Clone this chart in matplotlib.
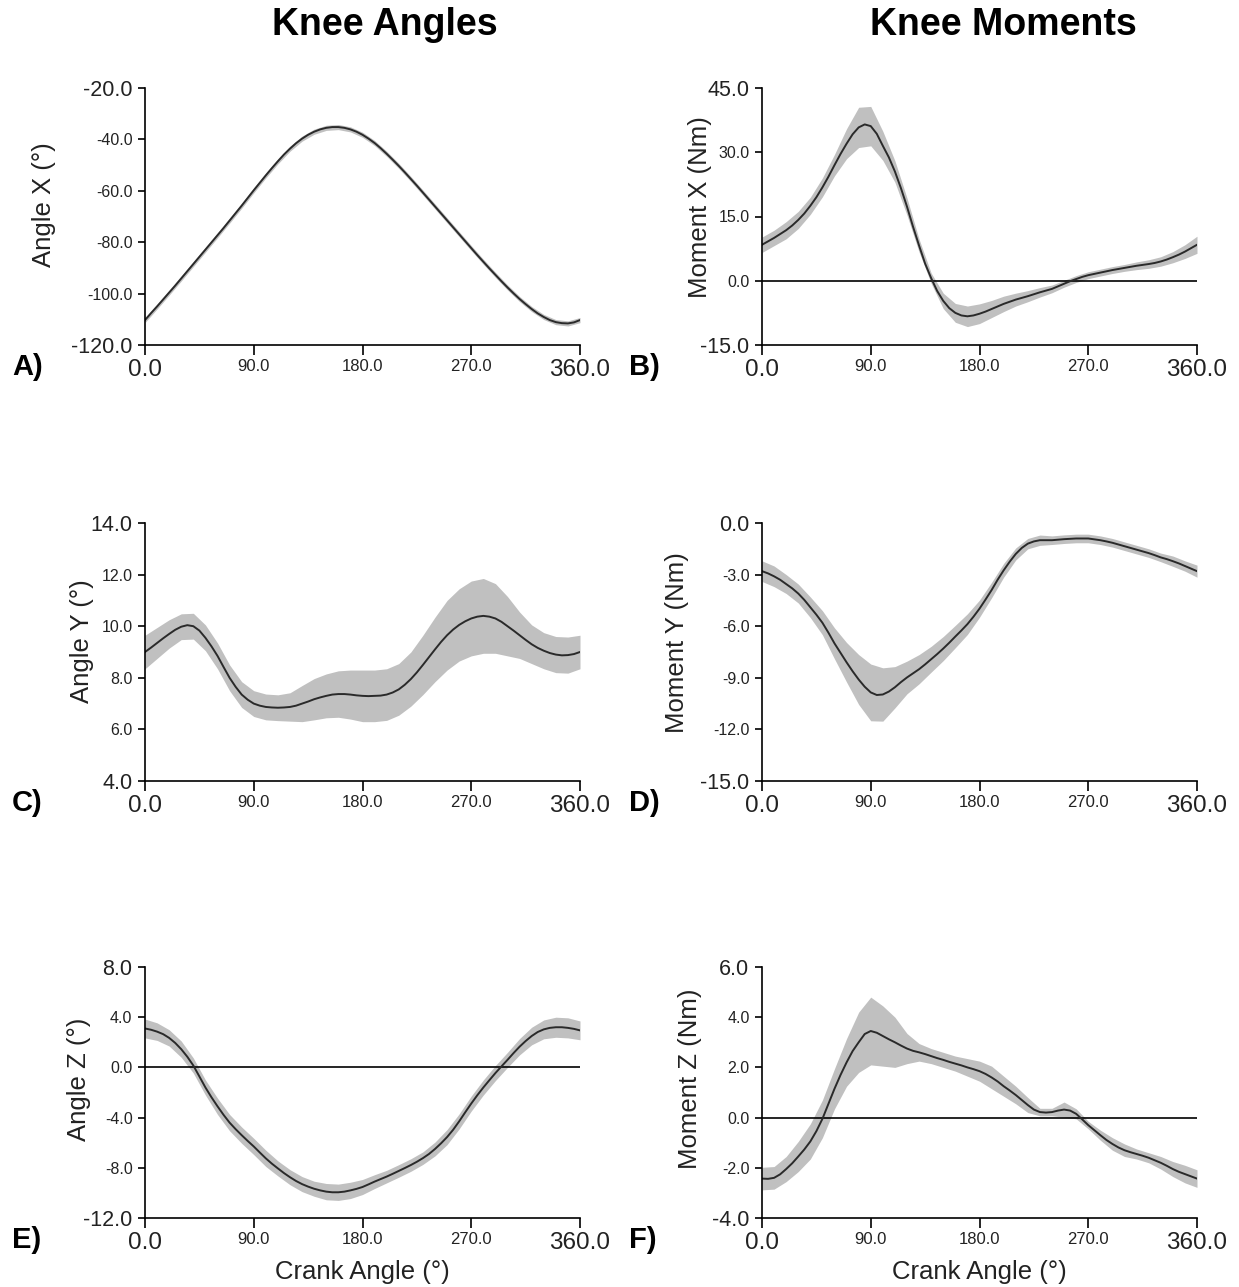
import numpy as np
import matplotlib.pyplot as plt

plt.rcParams['font.family'] = ['Liberation Sans', 'DejaVu Sans']

# crank angle grids (deg): means every 5 deg, SD band every 10 deg
crank = np.arange(0, 361, 5)
crank_sd = np.arange(0, 361, 10)

# A) knee angle X
angle_x = [-110.3, -107.6, -105, -102.3, -99.6, -96.9, -94.1, -91.3, -88.5, -85.7,
           -82.9, -80.1, -77.3, -74.5, -71.6, -68.7, -65.8, -62.8, -59.8, -56.9,
           -54.0, -51.2, -48.5, -45.9, -43.6, -41.5, -39.7, -38.2, -37.0, -36.1,
           -35.5, -35.2, -35.2, -35.5, -36.1, -37.0, -38.2, -39.7, -41.4, -43.4,
           -45.6, -47.9, -50.3, -52.8, -55.4, -58.0, -60.7, -63.4, -66.1, -68.8,
           -71.5, -74.2, -76.9, -79.6, -82.3, -85.0, -87.6, -90.2, -92.7, -95.2,
           -97.6, -99.9, -102.1, -104.1, -106.0, -107.7, -109.1, -110.3, -111.1, -111.5,
           -111.6, -111.2, -110.3]
angle_x_sd = [1.0] * 37

# B) knee moment X
moment_x = [8.4, 9.2, 10.0, 10.9, 11.8, 12.9, 14.2, 15.7, 17.5, 19.5,
            21.8, 24.3, 27.0, 29.6, 32.0, 34.2, 35.8, 36.5, 36.1, 34.3,
            31.5, 28.8, 25.5, 21.6, 17.3, 12.6, 8.2, 4.0, 0.6, -2.4,
            -4.7, -6.4, -7.5, -8.1, -8.3, -8.1, -7.7, -7.2, -6.6, -6.0,
            -5.4, -4.9, -4.4, -4.0, -3.6, -3.15, -2.7, -2.3, -1.9, -1.3,
            -0.7, -0.1, 0.4, 0.9, 1.3, 1.6, 1.9, 2.2, 2.5, 2.75,
            3.0, 3.25, 3.5, 3.7, 3.9, 4.15, 4.5, 4.95, 5.5, 6.1,
            6.8, 7.6, 8.4]
moment_x_sd = [1.8, 1.8, 2, 2, 2, 2.2, 2.5, 3.5, 4.7, 4.6,
               3.4, 2.5, 2, 1.5, 1.2, 1.8, 2.2, 2.4, 2.3, 2.0,
               1.8, 1.5, 1.3, 1.1, 0.9, 0.8, 0.8, 0.8, 0.8, 0.8,
               0.8, 0.9, 1, 1.1, 1.3, 1.6, 2.0]

# C) knee angle Y
angle_y = [9.0, 9.17, 9.35, 9.53, 9.7, 9.86, 9.98, 10.04, 10.0, 9.83,
           9.55, 9.22, 8.85, 8.42, 8.0, 7.65, 7.35, 7.15, 7.0, 6.92,
           6.87, 6.85, 6.84, 6.85, 6.87, 6.92, 7.0, 7.08, 7.17, 7.24,
           7.3, 7.35, 7.37, 7.37, 7.35, 7.32, 7.3, 7.29, 7.3, 7.31,
           7.35, 7.43, 7.55, 7.73, 7.95, 8.21, 8.5, 8.8, 9.1, 9.39,
           9.65, 9.87, 10.05, 10.19, 10.3, 10.37, 10.4, 10.37, 10.3, 10.17,
           10.0, 9.83, 9.65, 9.47, 9.3, 9.16, 9.05, 8.96, 8.9, 8.87,
           8.88, 8.92, 9.0]
angle_y_sd = [0.65, 0.6, 0.55, 0.5, 0.5, 0.5, 0.5, 0.5, 0.5, 0.5,
              0.5, 0.5, 0.55, 0.7, 0.8, 0.85, 0.9, 0.95, 1.0, 1.0,
              1.0, 1.0, 1.05, 1.15, 1.25, 1.35, 1.4, 1.45, 1.45, 1.35,
              1.15, 0.9, 0.75, 0.7, 0.7, 0.7, 0.65]

# D) knee moment Y
moment_y = [-2.8, -2.93, -3.1, -3.3, -3.55, -3.8, -4.1, -4.47, -4.9, -5.33,
            -5.8, -6.38, -7.0, -7.55, -8.1, -8.62, -9.1, -9.52, -9.85, -10.0,
            -9.97, -9.8, -9.55, -9.25, -8.98, -8.74, -8.5, -8.22, -7.92, -7.62,
            -7.3, -6.96, -6.6, -6.25, -5.88, -5.45, -4.98, -4.45, -3.9, -3.3,
            -2.75, -2.25, -1.8, -1.45, -1.2, -1.07, -1.0, -1.0, -1.0, -0.97,
            -0.94, -0.92, -0.9, -0.9, -0.9, -0.95, -1.0, -1.07, -1.15, -1.25,
            -1.35, -1.45, -1.55, -1.65, -1.75, -1.87, -2.0, -2.1, -2.22, -2.35,
            -2.5, -2.65, -2.8]
moment_y_sd = [0.6, 0.6, 0.55, 0.55, 0.6, 0.7, 0.9, 1.15, 1.45, 1.65,
               1.55, 1.2, 0.95, 0.85, 0.75, 0.7, 0.65, 0.6, 0.5, 0.45,
               0.4, 0.35, 0.3, 0.3, 0.25, 0.25, 0.25, 0.25, 0.25, 0.25,
               0.25, 0.25, 0.25, 0.25, 0.3, 0.3, 0.35]

# E) knee angle Z
angle_z = [3.1, 3.0, 2.85, 2.65, 2.35, 1.95, 1.45, 0.85, 0.15, -0.72,
           -1.6, -2.38, -3.1, -3.78, -4.4, -4.92, -5.4, -5.86, -6.3, -6.78,
           -7.25, -7.67, -8.05, -8.42, -8.75, -9.05, -9.3, -9.5, -9.67, -9.8,
           -9.9, -9.95, -9.95, -9.9, -9.8, -9.68, -9.53, -9.32, -9.1, -8.9,
           -8.7, -8.48, -8.25, -8.02, -7.78, -7.52, -7.23, -6.9, -6.5, -6.05,
           -5.55, -4.97, -4.3, -3.58, -2.88, -2.22, -1.6, -1.02, -0.45, 0.08,
           0.6, 1.14, 1.65, 2.1, 2.5, 2.82, 3.03, 3.15, 3.2, 3.2,
           3.15, 3.07, 2.95]
angle_z_sd = [0.75, 0.7, 0.65, 0.65, 0.6, 0.6, 0.65, 0.65, 0.65, 0.65,
              0.65, 0.6, 0.6, 0.6, 0.6, 0.65, 0.65, 0.65, 0.6, 0.55,
              0.5, 0.5, 0.5, 0.5, 0.55, 0.6, 0.6, 0.6, 0.6, 0.6,
              0.6, 0.65, 0.7, 0.75, 0.8, 0.8, 0.75]

# F) knee moment Z
moment_z = [-2.43, -2.44, -2.4, -2.26, -2.05, -1.82, -1.55, -1.27, -0.95, -0.54,
            -0.05, 0.55, 1.15, 1.7, 2.2, 2.65, 3.0, 3.33, 3.45, 3.38,
            3.25, 3.12, 3.0, 2.87, 2.75, 2.66, 2.6, 2.53, 2.45, 2.37,
            2.3, 2.22, 2.15, 2.08, 2.0, 1.93, 1.85, 1.74, 1.6, 1.44,
            1.25, 1.08, 0.9, 0.7, 0.5, 0.32, 0.22, 0.2, 0.22, 0.28,
            0.32, 0.28, 0.15, -0.07, -0.3, -0.5, -0.7, -0.89, -1.05, -1.19,
            -1.3, -1.38, -1.45, -1.52, -1.6, -1.7, -1.8, -1.92, -2.05, -2.16,
            -2.25, -2.34, -2.43]
moment_z_sd = [0.45, 0.45, 0.5, 0.6, 0.7, 0.75, 0.8, 0.95, 1.2, 1.35,
               1.2, 1.0, 0.6, 0.35, 0.3, 0.3, 0.3, 0.35, 0.4, 0.45,
               0.4, 0.35, 0.3, 0.15, 0.15, 0.3, 0.2, 0.15, 0.2, 0.25,
               0.25, 0.2, 0.2, 0.25, 0.3, 0.35, 0.35]

x_ticks = [0, 90, 180, 270, 360]

panels = [
    # letter, mean, sd, ylabel, yticks, zero line, label pos (axes frac)
    ("A)", angle_x, angle_x_sd, "Angle X (°)", [-120, -100, -80, -60, -40, -20], False, (-0.233, 0.545)),
    ("B)", moment_x, moment_x_sd, "Moment X (Nm)", [-15, 0, 15, 30, 45], True, (-0.143, 0.537)),
    ("C)", angle_y, angle_y_sd, "Angle Y (°)", [4, 6, 8, 10, 12, 14], False, (-0.145, 0.543)),
    ("D)", moment_y, moment_y_sd, "Moment Y (Nm)", [-15, -12, -9, -6, -3, 0], False, (-0.195, 0.535)),
    ("E)", angle_z, angle_z_sd, "Angle Z (°)", [-12, -8, -4, 0, 4, 8], True, (-0.152, 0.554)),
    ("F)", moment_z, moment_z_sd, "Moment Z (Nm)", [-4, -2, 0, 2, 4, 6], True, (-0.166, 0.554)),
]

W, H = 1239, 1287
fig = plt.figure(figsize=(W / 100, H / 100), dpi=100)

cols = [145, 762]
col_w = 435
rows = [(88, 345), (523, 781), (967, 1218)]

for i, (letter, mean, sd, ylab, yt, zero, lpos) in enumerate(panels):
    r, c = divmod(i, 2)
    top, bot = rows[r]
    ax = fig.add_axes([cols[c] / W, 1 - bot / H, col_w / W, (bot - top) / H])
    mean = np.array(mean)
    sd = np.array(sd)
    m10 = mean[::2]
    ax.fill_between(crank_sd, m10 - sd, m10 + sd, color="#c0c0c0", lw=0)
    if zero:
        ax.axhline(0, color="black", lw=1.2)
    ax.plot(crank, mean, color="#2a2a2a", lw=1.4)

    ax.set_xlim(0, 360)
    ax.set_ylim(yt[0], yt[-1])
    ax.set_xticks(x_ticks, labels=["%.1f" % v for v in x_ticks])
    ax.set_yticks(yt, labels=["%.1f" % v for v in yt])
    xl = ax.get_xticklabels()
    for j, lab in enumerate(xl):
        big = j == 0 or j == len(xl) - 1
        lab.set_fontsize(17.5 if big else 12)
        lab.set_color("#222222")
    yl = ax.get_yticklabels()
    for j, lab in enumerate(yl):
        big = j == 0 or j == len(yl) - 1
        lab.set_fontsize(15.5 if big else 11.5)
        lab.set_color("#222222")
    ax.tick_params(axis="x", direction="out", length=7, width=1.2, pad=3)
    ax.tick_params(axis="y", direction="out", length=5, width=1.2, pad=4)
    for s in ("top", "right"):
        ax.spines[s].set_visible(False)
    for s in ("left", "bottom"):
        ax.spines[s].set_linewidth(1.2)

    ax.set_ylabel(ylab, fontsize=18.5, va="center", color="#222222")
    ax.yaxis.set_label_coords(*lpos)
    if r == 2:
        ax.set_xlabel("Crank Angle (°)", fontsize=18.5, va="center", color="#222222")
        ax.xaxis.set_label_coords(0.5, -0.215)

    fig.text((cols[c] - 133) / W, 1 - (bot + 22) / H, letter,
             fontsize=21, fontweight="bold", va="center", ha="left")

fig.text(385 / W, 1 - 25 / H, "Knee Angles", fontsize=27, fontweight="bold",
         ha="center", va="center")
fig.text(1003 / W, 1 - 25 / H, "Knee Moments", fontsize=27, fontweight="bold",
         ha="center", va="center")

fig.savefig("out.png", dpi=100)
